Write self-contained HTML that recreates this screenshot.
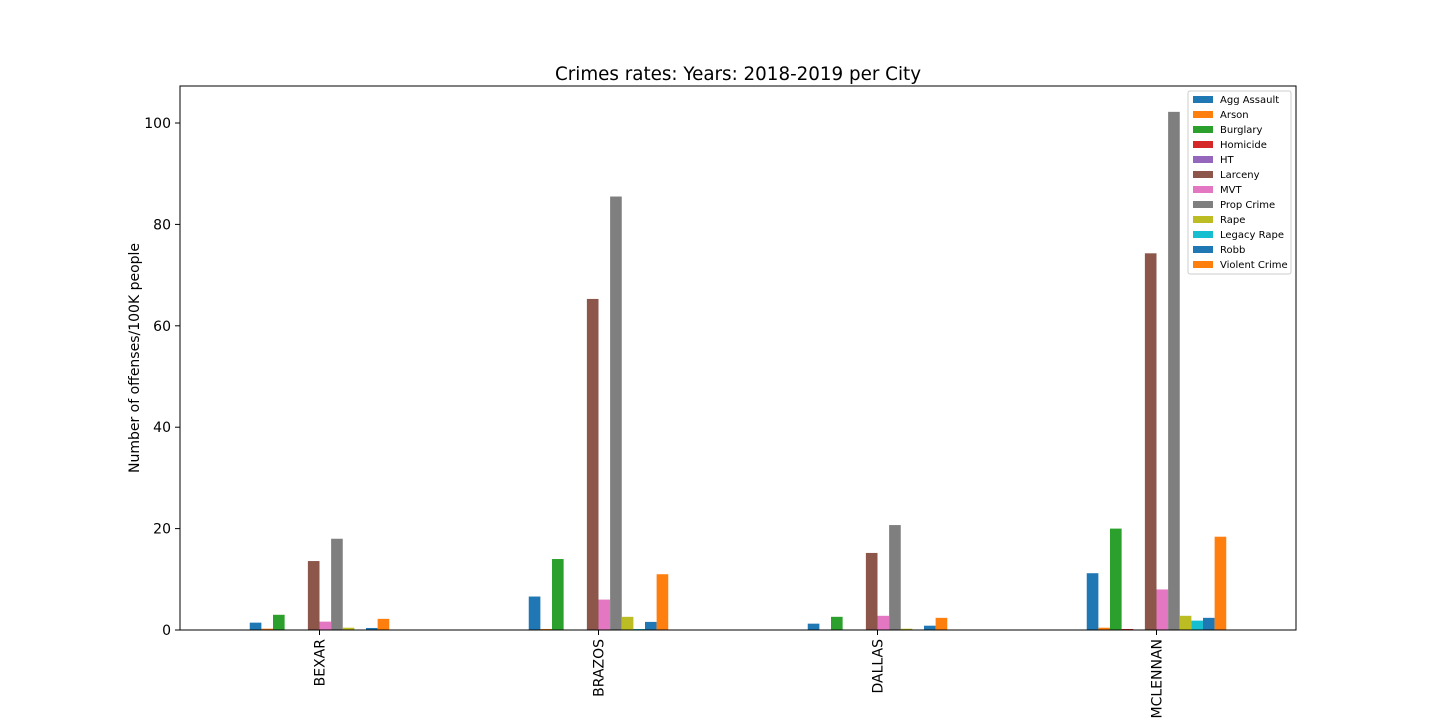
<!DOCTYPE html>
<html><head><meta charset="utf-8"><style>
body{margin:0;background:#fff;}
svg{display:block;font-family:"DejaVu Sans","Liberation Sans",sans-serif;}
</style></head><body>
<svg id="chart" width="1440" height="720">
<text x="738" y="80" text-anchor="middle" font-size="18.3">Crimes rates: Years: 2018-2019 per City</text>
<text transform="translate(139,358) rotate(-90)" text-anchor="middle" font-size="14">Number of offenses/100K people</text>
<g id="bars"></g><g id="axes"></g><g id="legend"></g>
</svg>
<script>
const categories=["BEXAR","BRAZOS","DALLAS","MCLENNAN"];
const seriesNames=["Agg Assault","Arson","Burglary","Homicide","HT","Larceny","MVT","Prop Crime","Rape","Legacy Rape","Robb","Violent Crime"];
const colors=["#1f77b4","#ff7f0e","#2ca02c","#d62728","#9467bd","#8c564b","#e377c2","#7f7f7f","#bcbd22","#17becf","#1f77b4","#ff7f0e"];
const aggAssault=[1.45,6.6,1.25,11.2];
const arson=[0.26,0.2,0,0.45];
const burglary=[3.0,14,2.6,20];
const homicide=[0,0,0,0.2];
const ht=[0,0,0,0];
const larceny=[13.6,65.3,15.2,74.3];
const mvt=[1.65,6.0,2.8,8.0];
const propCrime=[18,85.5,20.7,102.2];
const rape=[0.45,2.6,0.25,2.8];
const legacyRape=[0,0.2,0,1.85];
const robb=[0.4,1.6,0.85,2.4];
const violentCrime=[2.2,11,2.4,18.4];
const series=[aggAssault,arson,burglary,homicide,ht,larceny,mvt,propCrime,rape,legacyRape,robb,violentCrime];
const yTicks=[0,20,40,60,80,100];

const NS="http://www.w3.org/2000/svg";
const L=180,R=1296,T=86,B=630;
const yMax=107.3;
const y=v=>B-v/yMax*(B-T);
const step=(R-L)/categories.length;
const xc=i=>L+step*(i+0.5);
const bw=step*0.5/series.length;
function mk(t,a,p){const e=document.createElementNS(NS,t);for(const k in a)e.setAttribute(k,a[k]);p.appendChild(e);return e;}
const gb=document.getElementById('bars');
series.forEach((s,j)=>{s.forEach((v,i)=>{
 const x0=xc(i)-step*0.25+j*bw;
 const r=mk('rect',{x:x0,y:y(v),width:bw,height:B-y(v),fill:colors[j]},gb);
 
 
});});
const ga=document.getElementById('axes');
const frame=mk('rect',{x:L,y:T,width:R-L,height:B-T,fill:'none',stroke:'#000','stroke-width':1},ga);


yTicks.forEach(t=>{
 mk('line',{x1:L-5,x2:L,y1:y(t),y2:y(t),stroke:'#000'},ga);
 const tx=mk('text',{x:L-9,y:y(t)+5,'text-anchor':'end','font-size':14},ga);
 tx.textContent=t;
 
 
});
categories.forEach((c,i)=>{
 mk('line',{x1:xc(i),x2:xc(i),y1:B,y2:B+5,stroke:'#000'},ga);
 const tx=mk('text',{transform:`translate(${xc(i)+5},${B+9}) rotate(-90)`,'text-anchor':'end','font-size':14},ga);
 tx.textContent=c;
 
 
});
const gl=document.getElementById('legend');


mk('rect',{x:1188,y:91,width:103,height:183,fill:'#fff',stroke:'#ccc',rx:2},gl);
seriesNames.forEach((n,j)=>{
 const yy=99+j*15;
 const g=mk('g',{},gl);
 
 
 mk('rect',{x:1193,y:yy-3,width:20,height:7,fill:colors[j]},g);
 const t=mk('text',{x:1220,y:yy+4,'font-size':10},g);
 t.textContent=n;
});
</script>
</body></html>
